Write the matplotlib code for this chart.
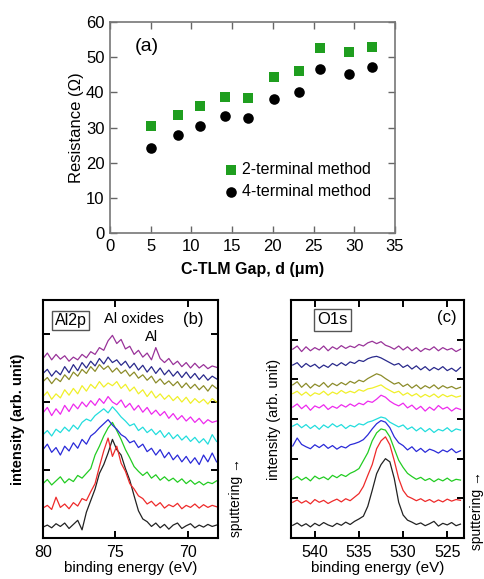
import numpy as np
import matplotlib
matplotlib.use("Agg")
import matplotlib.pyplot as plt

plt.rcParams['font.family'] = ['Liberation Sans', 'DejaVu Sans']

# ---- panel (a): C-TLM resistance ----
gap_um = [5.0, 8.3, 11.1, 14.1, 17.0, 20.2, 23.2, 25.8, 29.3, 32.2]
r_two_terminal = [30.5, 33.5, 36.0, 38.7, 38.3, 44.5, 46.0, 52.5, 51.5, 53.0]
r_four_terminal = [24.3, 28.0, 30.5, 33.2, 32.8, 38.2, 40.2, 46.5, 45.3, 47.2]

# ---- panel (b): Al2p spectra (stacked, arb. units) ----
al_energy = [80.0, 79.7, 79.4, 79.1, 78.8, 78.5, 78.2, 77.9, 77.6, 77.3, 77.0,
             76.7, 76.4, 76.1, 75.8, 75.5, 75.2, 74.9, 74.6, 74.3, 74.0, 73.7,
             73.4, 73.1, 72.8, 72.5, 72.2, 71.9, 71.6, 71.3, 71.0, 70.7, 70.4,
             70.1, 69.8, 69.5, 69.2, 68.9, 68.6, 68.3, 68.0]
al_black = [0.16, 0.19, 0.15, 0.21, 0.17, 0.22, 0.14, 0.20, 0.26, 0.12, 0.38,
            0.55, 0.72, 0.95, 1.08, 1.25, 1.45, 1.30, 1.22, 1.02, 0.85, 0.62,
            0.40, 0.28, 0.24, 0.17, 0.22, 0.15, 0.20, 0.13, 0.19, 0.22, 0.14,
            0.18, 0.21, 0.15, 0.19, 0.16, 0.20, 0.17, 0.19]
al_red = [0.44, 0.48, 0.42, 0.60, 0.45, 0.50, 0.43, 0.52, 0.47, 0.58, 0.55,
          0.68, 0.80, 1.05, 1.28, 1.47, 1.20, 1.35, 1.10, 0.98, 0.80, 0.72,
          0.62, 0.58, 0.50, 0.54, 0.47, 0.52, 0.44, 0.49, 0.46, 0.51, 0.43,
          0.48, 0.45, 0.50, 0.44, 0.49, 0.45, 0.48, 0.46]
al_green = [0.80, 0.86, 0.78, 0.84, 0.90, 0.81, 0.87, 0.83, 0.92, 0.88, 0.95,
            1.02, 1.22, 1.35, 1.50, 1.62, 1.70, 1.58, 1.45, 1.30, 1.18, 1.05,
            0.98, 0.92, 0.97, 0.88, 0.93, 0.85, 0.90, 0.84, 0.88, 0.82, 0.87,
            0.80, 0.85, 0.79, 0.83, 0.78, 0.82, 0.80, 0.84]
al_blue = [1.30, 1.38, 1.26, 1.33, 1.22, 1.35, 1.28, 1.40, 1.32, 1.45, 1.38,
           1.50, 1.55, 1.62, 1.68, 1.74, 1.66, 1.60, 1.52, 1.48, 1.40, 1.43,
           1.33, 1.38, 1.27, 1.32, 1.22, 1.30, 1.18, 1.26, 1.15, 1.22, 1.12,
           1.20, 1.10, 1.18, 1.08, 1.22, 1.12, 1.25, 1.12]
al_cyan = [1.52, 1.58, 1.50, 1.60, 1.55, 1.63, 1.57, 1.66, 1.60, 1.70, 1.75,
           1.72, 1.80, 1.85, 1.90, 1.84, 1.93, 1.86, 1.78, 1.72, 1.65, 1.68,
           1.58, 1.63, 1.55, 1.60, 1.52, 1.58, 1.48, 1.55, 1.46, 1.52, 1.44,
           1.50, 1.42, 1.48, 1.40, 1.46, 1.38, 1.52, 1.42]
al_magenta = [1.84, 1.92, 1.80, 1.90, 1.82, 1.95, 1.86, 1.97, 1.90, 2.00, 1.93,
              2.02, 1.95, 2.05, 1.98, 2.08, 2.00, 1.96, 2.03, 1.92, 1.98, 1.88,
              1.95, 1.85, 1.92, 1.82, 1.88, 1.80, 1.86, 1.76, 1.83, 1.74, 1.80,
              1.72, 1.78, 1.70, 1.76, 1.68, 1.74, 1.70, 1.72]
al_yellow = [2.08, 2.15, 2.04, 2.12, 2.06, 2.18, 2.10, 2.20, 2.12, 2.24, 2.16,
             2.26, 2.20, 2.30, 2.22, 2.28, 2.24, 2.30, 2.20, 2.26, 2.16, 2.22,
             2.12, 2.18, 2.08, 2.16, 2.06, 2.12, 2.04, 2.10, 2.02, 2.08, 2.00,
             2.07, 1.98, 2.05, 1.99, 2.04, 1.97, 2.05, 2.00]
al_olive = [2.30, 2.36, 2.27, 2.35, 2.30, 2.40, 2.33, 2.44, 2.38, 2.48, 2.42,
            2.52, 2.45, 2.55, 2.48, 2.53, 2.44, 2.50, 2.42, 2.47, 2.38, 2.44,
            2.35, 2.40, 2.32, 2.38, 2.28, 2.34, 2.26, 2.31, 2.24, 2.30, 2.21,
            2.28, 2.20, 2.26, 2.18, 2.24, 2.16, 2.25, 2.20]
al_navy = [2.42, 2.48, 2.38, 2.46, 2.40, 2.52, 2.43, 2.55, 2.46, 2.58, 2.50,
           2.60, 2.53, 2.64, 2.56, 2.66, 2.58, 2.62, 2.54, 2.60, 2.50, 2.57,
           2.47, 2.54, 2.44, 2.52, 2.42, 2.50, 2.40, 2.47, 2.38, 2.45, 2.36,
           2.44, 2.35, 2.42, 2.33, 2.40, 2.32, 2.38, 2.34]
al_purple = [2.64, 2.72, 2.62, 2.70, 2.63, 2.68, 2.60, 2.66, 2.62, 2.70, 2.65,
             2.74, 2.70, 2.80, 2.76, 2.90, 2.98, 2.86, 2.92, 2.78, 2.82, 2.70,
             2.76, 2.66, 2.72, 2.62, 2.80, 2.64, 2.58, 2.64, 2.55, 2.60, 2.52,
             2.58, 2.50, 2.57, 2.50, 2.55, 2.49, 2.53, 2.51]

# ---- panel (c): O1s spectra ----
o_energy = [542.5, 542.0, 541.5, 541.0, 540.5, 540.0, 539.5, 539.0, 538.5, 538.0,
            537.5, 537.0, 536.5, 536.0, 535.5, 535.0, 534.5, 534.0, 533.5, 533.0,
            532.5, 532.0, 531.5, 531.0, 530.5, 530.0, 529.5, 529.0, 528.5, 528.0,
            527.5, 527.0, 526.5, 526.0, 525.5, 525.0, 524.5, 524.0, 523.5]
o_black = [0.32, 0.38, 0.30, 0.36, 0.28, 0.37, 0.31, 0.39, 0.33, 0.29,
           0.37, 0.32, 0.40, 0.34, 0.42, 0.48, 0.55, 0.80, 1.20, 1.62,
           1.85, 2.00, 1.92, 1.50, 0.90, 0.58, 0.45, 0.40, 0.34, 0.38,
           0.31, 0.36, 0.42, 0.30, 0.37, 0.33, 0.39, 0.31, 0.35]
o_red = [0.90, 0.96, 0.88, 0.94, 0.86, 0.97, 0.90, 0.95, 0.87, 0.93,
         0.98, 0.91, 0.99, 0.94, 1.03, 1.12, 1.30, 1.58, 1.85, 2.25,
         2.45, 2.55, 2.35, 1.95, 1.50, 1.20, 1.05, 1.00, 0.94, 0.99,
         0.92, 0.97, 0.90, 0.96, 0.91, 0.98, 0.93, 0.97, 0.95]
o_green = [1.48, 1.55, 1.46, 1.53, 1.44, 1.56, 1.49, 1.54, 1.47, 1.58,
           1.52, 1.60, 1.55, 1.63, 1.68, 1.75, 1.95, 2.15, 2.45, 2.65,
           2.75, 2.72, 2.55, 2.25, 1.96, 1.78, 1.63, 1.55, 1.48, 1.53,
           1.45, 1.50, 1.42, 1.49, 1.44, 1.51, 1.43, 1.48, 1.46]
o_blue = [2.32, 2.52, 2.36, 2.30, 2.25, 2.35, 2.28, 2.36, 2.26, 2.33,
          2.24, 2.31, 2.27, 2.35, 2.38, 2.42, 2.48, 2.60, 2.75, 2.88,
          2.96, 2.92, 2.78, 2.55, 2.40, 2.33, 2.22, 2.30, 2.18, 2.26,
          2.16, 2.24, 2.20, 2.14, 2.22, 2.17, 2.25, 2.15, 2.20]
o_cyan = [2.82, 2.88, 2.78, 2.86, 2.76, 2.84, 2.74, 2.85, 2.78, 2.88,
          2.80, 2.86, 2.76, 2.84, 2.80, 2.88, 2.85, 2.92, 2.95, 3.00,
          3.05, 3.02, 2.92, 2.86, 2.80, 2.85, 2.74, 2.80, 2.70, 2.78,
          2.68, 2.76, 2.66, 2.74, 2.70, 2.78, 2.68, 2.75, 2.72]
o_magenta = [3.30, 3.38, 3.26, 3.35, 3.22, 3.33, 3.28, 3.36, 3.24, 3.32,
             3.27, 3.36, 3.30, 3.38, 3.32, 3.40, 3.36, 3.45, 3.42, 3.50,
             3.60, 3.55, 3.45, 3.38, 3.33, 3.40, 3.28, 3.35, 3.24, 3.32,
             3.20, 3.30, 3.22, 3.34, 3.25, 3.30, 3.20, 3.28, 3.24]
o_yellow = [3.64, 3.70, 3.60, 3.68, 3.58, 3.66, 3.62, 3.70, 3.60, 3.68,
            3.63, 3.72, 3.65, 3.70, 3.66, 3.74, 3.70, 3.76, 3.78, 3.82,
            3.86, 3.78, 3.72, 3.66, 3.70, 3.60, 3.66, 3.58, 3.64, 3.55,
            3.62, 3.56, 3.63, 3.54, 3.62, 3.56, 3.60, 3.55, 3.58]
o_olive = [3.86, 3.94, 3.80, 3.90, 3.78, 3.88, 3.82, 3.92, 3.80, 3.90,
           3.84, 3.92, 3.86, 3.95, 3.90, 3.98, 3.94, 4.02, 4.08, 4.14,
           4.10, 4.02, 3.95, 3.88, 3.92, 3.82, 3.88, 3.78, 3.86, 3.76,
           3.84, 3.78, 3.86, 3.76, 3.84, 3.78, 3.82, 3.76, 3.80]
o_navy = [4.36, 4.42, 4.30, 4.40, 4.32, 4.38, 4.28, 4.36, 4.30, 4.40,
          4.34, 4.42, 4.35, 4.44, 4.40, 4.48, 4.45, 4.52, 4.56, 4.58,
          4.54, 4.48, 4.42, 4.36, 4.40, 4.30, 4.36, 4.26, 4.34, 4.24,
          4.32, 4.22, 4.30, 4.24, 4.32, 4.22, 4.28, 4.20, 4.30]
o_purple = [4.76, 4.84, 4.70, 4.82, 4.72, 4.80, 4.74, 4.84, 4.72, 4.82,
            4.76, 4.85, 4.78, 4.84, 4.80, 4.88, 4.84, 4.92, 4.96, 4.90,
            4.95, 4.86, 4.82, 4.76, 4.84, 4.74, 4.82, 4.72, 4.80, 4.70,
            4.78, 4.74, 4.82, 4.72, 4.80, 4.74, 4.78, 4.70, 4.76]

trace_colors = ['#222222', '#ee2a2a', '#22cc22', '#2a2ad8', '#22dddd',
                '#ee2aee', '#f0f02a', '#8c8c2a', '#2a2a8c', '#993399']
al_traces = [al_black, al_red, al_green, al_blue, al_cyan,
             al_magenta, al_yellow, al_olive, al_navy, al_purple]
o_traces = [o_black, o_red, o_green, o_blue, o_cyan,
            o_magenta, o_yellow, o_olive, o_navy, o_purple]

W, H = 485, 579
fig = plt.figure(figsize=(W / 100, H / 100), dpi=100)


def px_axes(x0, y0, x1, y1):
    # axes from pixel box (top-left origin)
    return fig.add_axes([x0 / W, 1 - y1 / H, (x1 - x0) / W, (y1 - y0) / H])


# ---------------- (a) ----------------
ax = px_axes(110, 22, 395, 233)
ax.scatter(gap_um, r_two_terminal, marker='s', s=62, color='#1f9e1f',
           label='2-terminal method', zorder=3, linewidths=0)
ax.scatter(gap_um, r_four_terminal, marker='o', s=58, color='black',
           label='4-terminal method', zorder=3, linewidths=0)
ax.set_xlim(0, 35)
ax.set_ylim(0, 60)
ax.set_xticks(range(0, 36, 5))
ax.set_yticks(range(0, 61, 10))
ax.tick_params(direction='in', top=True, right=True, length=5, width=1,
               color='#666666', labelsize=12, pad=4)
for sp in ax.spines.values():
    sp.set_color('#777777')
    sp.set_linewidth(1.2)
ax.set_xlabel('C-TLM Gap, d (μm)', fontsize=11.5, fontweight='bold', labelpad=6)
ax.set_ylabel('Resistance (Ω)', fontsize=12, labelpad=1)
ax.text(4.5, 53, '(a)', fontsize=14, ha='center', va='center')
ax.legend(loc='lower right', bbox_to_anchor=(0.94, 0.13), frameon=False,
          fontsize=11.5, handletextpad=0.1, labelspacing=0.45,
          borderaxespad=0, handlelength=1.2)

# ---------------- (b) ----------------
axb = px_axes(43, 300, 218, 538)
for y, c in zip(al_traces, trace_colors):
    axb.plot(al_energy, y, color=c, lw=0.9)
axb.set_xlim(80.0, 67.9)
axb.set_ylim(0, 3.5)
axb.set_xticks([80, 75, 70])
axb.set_yticks([1, 2, 3])
axb.set_yticklabels([])
axb.tick_params(direction='in', top=True, right=True, length=5, width=1.4,
                labelsize=11.5, pad=5)
for sp in axb.spines.values():
    sp.set_linewidth(1.5)
axb.set_xlabel('binding energy (eV)', fontsize=11, labelpad=1)
axb.set_ylabel('intensity (arb. unit)', fontsize=10.5, fontweight='bold', labelpad=8)
axb.text(78.1, 3.2, 'Al2p', fontsize=11.5, ha='center', va='center',
         bbox=dict(boxstyle='square,pad=0.15', fc='white', ec='#555555', lw=1))
axb.text(75.8, 3.22, 'Al oxides', fontsize=10.5, ha='left', va='center')
axb.text(72.5, 2.95, 'Al', fontsize=10.5, ha='center', va='center')
axb.text(69.6, 3.22, '(b)', fontsize=12, ha='center', va='center')
fig.text(236 / W, 1 - 537 / H, 'sputtering →', rotation=90, fontsize=10,
         ha='center', va='bottom')

# ---------------- (c) ----------------
axc = px_axes(291, 300, 464, 538)
for y, c in zip(o_traces, trace_colors):
    axc.plot(o_energy, y, color=c, lw=0.9)
axc.set_xlim(542.7, 523.1)
axc.set_ylim(0, 6)
axc.set_xticks([540, 535, 530, 525])
axc.set_yticks([1, 2, 3, 4, 5])
axc.set_yticklabels([])
axc.tick_params(direction='in', top=True, right=True, length=5, width=1.4,
                labelsize=11.5, pad=5)
for sp in axc.spines.values():
    sp.set_linewidth(1.5)
axc.set_xlabel('binding energy (eV)', fontsize=11, labelpad=1)
axc.set_ylabel('intensity (arb. unit)', fontsize=10.5, labelpad=2)
axc.text(538.0, 5.5, 'O1s', fontsize=12, ha='center', va='center',
         bbox=dict(boxstyle='square,pad=0.2', fc='white', ec='#555555', lw=1))
axc.text(525.0, 5.55, '(c)', fontsize=12, ha='center', va='center')
fig.text(477 / W, 1 - 550 / H, 'sputtering →', rotation=90, fontsize=10,
         ha='center', va='bottom')

fig.savefig('out.png', dpi=100)
